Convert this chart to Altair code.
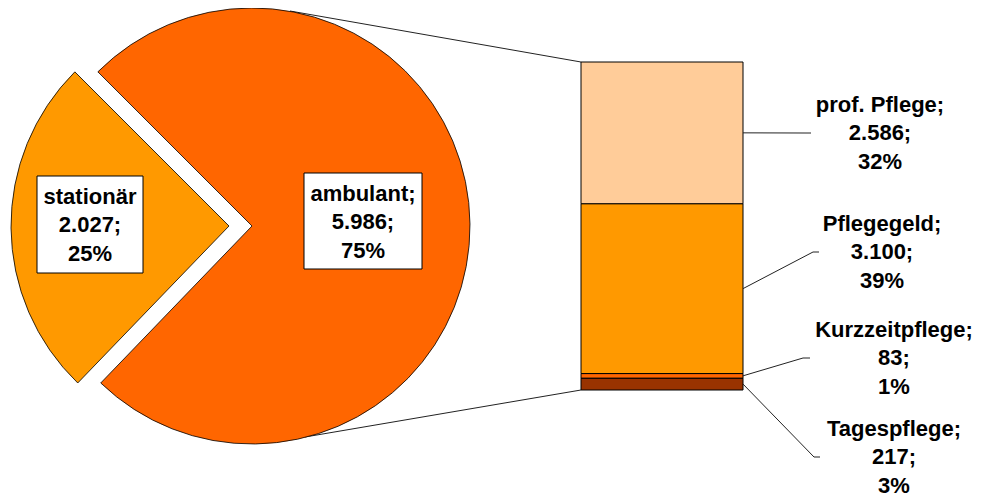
import math
import altair as alt
import pandas as pd

# ---------------- data ----------------
pie_names = ["ambulant", "stationär"]
pie_values = [5986, 2027]
bar_names = ["Tagespflege", "Kurzzeitpflege", "Pflegegeld", "prof. Pflege"]
bar_values = [217, 83, 3100, 2586]

# ---------------- styles / layout ----------------
pie_colors = ["#FF6600", "#FF9900"]
bar_colors = ["#993300", "#FF6600", "#FF9900", "#FFCC99"]
OFF = 8  # page margin; layout numbers below are page pixels
PIE_CY = 226
PIE_CX = [252, 229]          # ambulant, stationär (exploded)
PIE_R = 218
BAR_X0, BAR_X1, BAR_Y0, BAR_Y1 = 581, 743, 390, 62
PIE_BOX = [(304, 422, 173, 269), (37, 143, 176, 273)]
PIE_TXT = [(363, 222), (90, 225)]           # centre of middle text line
BAR_TXT = [(894, 457), (894, 358), (882, 252), (880, 133)]
LEADER_BEND = [(814, 820), (803, 810), (813, 819), (805, 811)]
SERIES_LINES = [((290, 11), (BAR_X0, BAR_Y1)), ((305, 437), (BAR_X0, BAR_Y0))]
FONT = "Liberation Sans"
FS = 22
LH = 28.5

grand_total = sum(pie_values)
amb_total = sum(bar_values)


def fmt(v):
    return f"{v:,}".replace(",", ".")


def pct(v):
    return f"{round(v / grand_total * 100)}%"


pie_label = [
    "ambulant;\n" + fmt(pie_values[0]) + ";\n" + pct(pie_values[0]),
    "stationär\n" + fmt(pie_values[1]) + ";\n" + pct(pie_values[1]),
]
bar_label = [f"{n};\n{fmt(v)};\n{pct(v)}" for n, v in zip(bar_names, bar_values)]

color_scale = alt.Scale(domain=pie_names + bar_names, range=pie_colors + bar_colors)
theta_scale = alt.Scale(domain=[0, grand_total],
                        range=[-math.pi / 4, 2 * math.pi - math.pi / 4])

pie_df = pd.DataFrame({"name": pie_names, "value": pie_values, "order": [0, 1]})


def pie_layer(i):
    return (
        alt.Chart(pie_df)
        .transform_stack(stack="value", groupby=[], as_=["t0", "t1"],
                         sort=[alt.SortField("order", order="ascending")])
        .transform_filter(alt.datum.name == pie_names[i])
        .mark_arc(radius=PIE_R, stroke="black", strokeWidth=0.8)
        .encode(
            theta=alt.Theta("t0:Q", scale=theta_scale),
            theta2="t1:Q",
            color=alt.Color("name:N", scale=color_scale, legend=None),
            x=alt.value(PIE_CX[i] - OFF),
            y=alt.value(PIE_CY - OFF),
        )
    )


bar_df = pd.DataFrame({"name": bar_names, "value": bar_values, "order": list(range(4))})
bar = (
    alt.Chart(bar_df)
    .transform_stack(stack="value", groupby=[], as_=["y0", "y1"],
                     sort=[alt.SortField("order", order="ascending")])
    .mark_rect(stroke="black", strokeWidth=1)
    .encode(
        x=alt.value(BAR_X0 - OFF),
        x2=alt.value(BAR_X1 - OFF),
        y=alt.Y("y0:Q", scale=alt.Scale(domain=[0, amb_total],
                                        range=[BAR_Y0 - OFF, BAR_Y1 - OFF]), axis=None),
        y2="y1:Q",
        color=alt.Color("name:N", scale=color_scale, legend=None),
    )
)

# pie label boxes + text
box_df = pd.DataFrame({
    "x0": [b[0] - OFF for b in PIE_BOX], "x1": [b[1] - OFF for b in PIE_BOX],
    "y0": [b[2] - OFF for b in PIE_BOX], "y1": [b[3] - OFF for b in PIE_BOX],
})
boxes = alt.Chart(box_df).mark_rect(fill="white", stroke="black", strokeWidth=1).encode(
    x=alt.X("x0:Q", scale=None, axis=None), x2="x1:Q",
    y=alt.Y("y0:Q", scale=None, axis=None), y2="y1:Q",
)

txt_df = pd.DataFrame({
    "label": pie_label + bar_label,
    "tx": [p[0] - OFF for p in PIE_TXT + BAR_TXT],
    # first line is anchored at y; middle line given in layout
    "ty": [p[1] - LH - OFF for p in PIE_TXT + BAR_TXT],
})
texts = alt.Chart(txt_df).mark_text(
    font=FONT, fontSize=FS, fontWeight="bold", lineBreak="\n", lineHeight=LH,
    align="center", baseline="middle", color="black",
).encode(
    x=alt.X("tx:Q", scale=None, axis=None),
    y=alt.Y("ty:Q", scale=None, axis=None),
    text="label:N",
)

# leader lines (start at segment middle of the bar)
rows = []
cum = 0
for i, v in enumerate(bar_values):
    mid = BAR_Y0 - (cum + v / 2) / amb_total * (BAR_Y0 - BAR_Y1)
    cum += v
    ly = BAR_TXT[i][1]
    bx, ex = LEADER_BEND[i]
    for s, (px, py) in enumerate([(BAR_X1, mid), (bx, ly), (ex, ly)]):
        rows.append({"id": i, "seq": s, "lx": px - OFF, "ly": py - OFF})
lead_df = pd.DataFrame(rows)
leaders = alt.Chart(lead_df).mark_line(color="#222222", strokeWidth=1).encode(
    x=alt.X("lx:Q", scale=None, axis=None),
    y=alt.Y("ly:Q", scale=None, axis=None),
    detail="id:N",
    order="seq:Q",
)

ser_df = pd.DataFrame({
    "a": [p[0][0] - OFF for p in SERIES_LINES], "b": [p[0][1] - OFF for p in SERIES_LINES],
    "c": [p[1][0] - OFF for p in SERIES_LINES], "d": [p[1][1] - OFF for p in SERIES_LINES],
})
series_lines = alt.Chart(ser_df).mark_rule(color="#222222", strokeWidth=1).encode(
    x=alt.X("a:Q", scale=None, axis=None), y=alt.Y("b:Q", scale=None, axis=None),
    x2="c:Q", y2="d:Q",
)

chart = (
    alt.layer(series_lines, pie_layer(0), pie_layer(1), bar, leaders, boxes, texts)
    .properties(width=967, height=492, autosize="none", padding=0)
    .resolve_scale(x="independent", y="independent")
    .configure_view(stroke=None)
)

chart.save("out.html", embed_options={"renderer": "svg", "actions": False})
